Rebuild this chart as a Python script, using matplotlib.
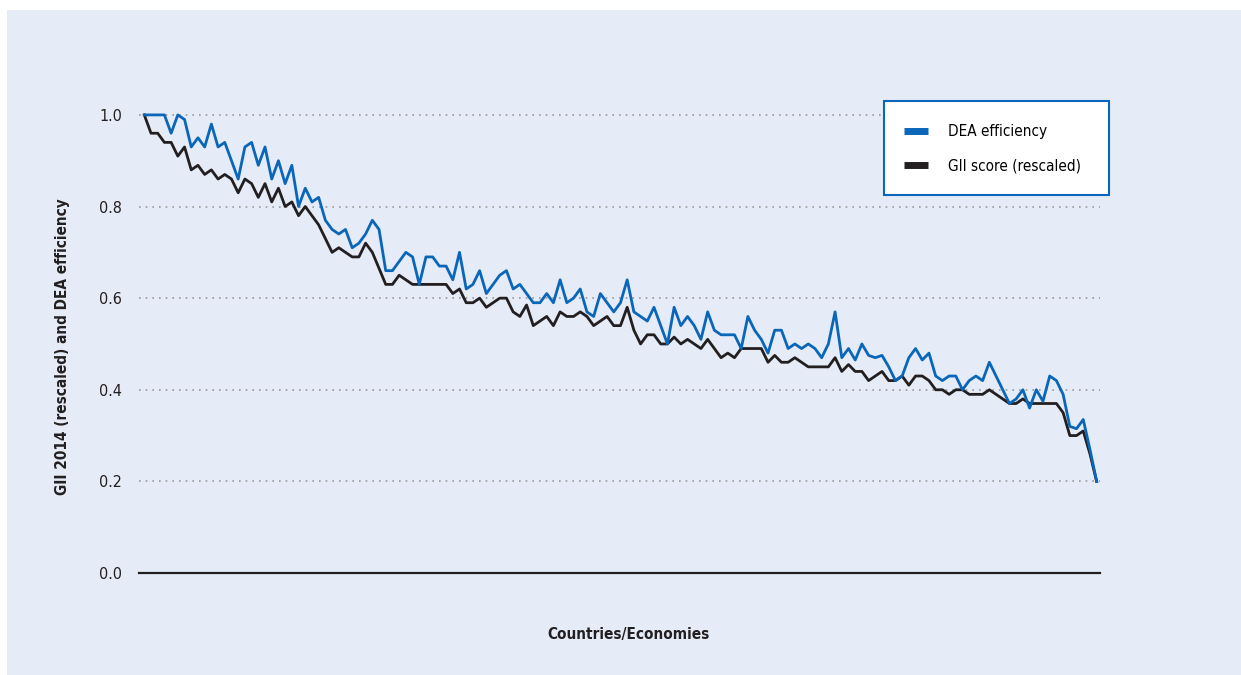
import numpy as np
import matplotlib
matplotlib.use('Agg')
import matplotlib.pyplot as plt

plt.rcParams['font.family'] = ['DejaVu Sans']
plt.rcParams['font.stretch'] = 'condensed'

# 143 economies, ranked by GII score
dea = [1.0, 1.0, 1.0, 1.0, 0.96, 1.0, 0.99, 0.93, 0.95, 0.93, 0.98, 0.93, 0.94, 0.90, 0.86,
       0.93, 0.94, 0.89, 0.93, 0.86, 0.90, 0.85, 0.89, 0.80, 0.84, 0.81, 0.82, 0.77, 0.75, 0.74,
       0.75, 0.71, 0.72, 0.74, 0.77, 0.75,
       0.66, 0.66, 0.68, 0.70, 0.69, 0.63, 0.69, 0.69, 0.67, 0.67, 0.64, 0.70, 0.62, 0.63,
       0.66, 0.61, 0.63, 0.65, 0.66, 0.62, 0.63, 0.61, 0.59, 0.59, 0.61, 0.59, 0.64, 0.59,
       0.60, 0.62, 0.57, 0.56, 0.61, 0.59, 0.57, 0.59,
       0.64, 0.57, 0.56, 0.55, 0.58, 0.54, 0.50, 0.58, 0.54, 0.56, 0.54, 0.51, 0.57, 0.53,
       0.52, 0.52, 0.52, 0.49, 0.56, 0.53, 0.51, 0.48, 0.53, 0.53, 0.49, 0.50, 0.49, 0.50,
       0.49, 0.47, 0.50, 0.57, 0.47, 0.49, 0.465, 0.50,
       0.475, 0.47, 0.475, 0.45, 0.42, 0.43, 0.47, 0.49, 0.465, 0.48, 0.43, 0.42, 0.43, 0.43,
       0.40, 0.42, 0.43, 0.42, 0.46, 0.43, 0.40, 0.37, 0.38, 0.40, 0.36, 0.40, 0.375, 0.43,
       0.42, 0.39, 0.32, 0.315, 0.335, 0.27, 0.20]
gii = [1.0, 0.96, 0.96, 0.94, 0.94, 0.91, 0.93, 0.88, 0.89, 0.87, 0.88, 0.86, 0.87, 0.86, 0.83,
       0.86, 0.85, 0.82, 0.85, 0.81, 0.84, 0.80, 0.81, 0.78, 0.80, 0.78, 0.76, 0.73, 0.70, 0.71,
       0.70, 0.69, 0.69, 0.72, 0.70, 0.665,
       0.63, 0.63, 0.65, 0.64, 0.63, 0.63, 0.63, 0.63, 0.63, 0.63, 0.61, 0.62, 0.59, 0.59,
       0.60, 0.58, 0.59, 0.60, 0.60, 0.57, 0.56, 0.585, 0.54, 0.55, 0.56, 0.54, 0.57, 0.56,
       0.56, 0.57, 0.56, 0.54, 0.55, 0.56, 0.54, 0.54,
       0.58, 0.53, 0.50, 0.52, 0.52, 0.50, 0.50, 0.515, 0.50, 0.51, 0.50, 0.49, 0.51, 0.49,
       0.47, 0.48, 0.47, 0.49, 0.49, 0.49, 0.49, 0.46, 0.475, 0.46, 0.46, 0.47, 0.46, 0.45,
       0.45, 0.45, 0.45, 0.47, 0.44, 0.455, 0.44, 0.44,
       0.42, 0.43, 0.44, 0.42, 0.42, 0.43, 0.41, 0.43, 0.43, 0.42, 0.40, 0.40, 0.39, 0.40,
       0.40, 0.39, 0.39, 0.39, 0.40, 0.39, 0.38, 0.37, 0.37, 0.38, 0.37, 0.37, 0.37, 0.37,
       0.37, 0.35, 0.30, 0.30, 0.31, 0.26, 0.20]
yticks = [0.0, 0.2, 0.4, 0.6, 0.8, 1.0]

bg = '#e5ebf7'
blue = '#0a66b8'
black = '#231f20'
W, H = 1241, 675

fig = plt.figure(figsize=(12.41, 6.75), dpi=100)
fig.patch.set_facecolor('white')
fig.patches.append(plt.Rectangle((7 / W, 0), 1, 1 - 10 / H, transform=fig.transFigure,
                                 facecolor=bg, edgecolor='none', zorder=-10))
ax = fig.add_axes([139 / W, 102 / H, (1100 - 139) / W, 481 / H])
ax.set_facecolor('none')

x = np.arange(len(dea))
ax.plot(x, gii, color=black, lw=2.0, label='GII score (rescaled)', zorder=3)
ax.plot(x, dea, color=blue, lw=2.0, label='DEA efficiency', zorder=4)

ax.set_xlim(-0.79, 142.5)
ax.set_ylim(0, 1.05)
ax.set_yticks(yticks)
ax.set_yticklabels(['%.1f' % v for v in yticks], fontsize=11.5, color=black)
ax.set_xticks([])
ax.tick_params(axis='y', length=0, pad=12)
for s in ax.spines.values():
    s.set_visible(False)
for v in yticks[1:]:
    ax.axhline(v, color='#999999', lw=1.2, ls=(0, (1, 3)), zorder=1)
ax.axhline(0, color=black, lw=1.6, zorder=2, clip_on=False)

fig.text(63 / W, 1 - 347 / H, 'GII 2014 (rescaled) and DEA efficiency', rotation=90,
         ha='center', va='center', fontsize=11, fontweight='bold', color=black)
fig.text(628 / W, 1 - 634 / H, 'Countries/Economies', ha='center', va='center',
         fontsize=11, fontweight='bold', color=black)

# legend box
fig.patches.append(plt.Rectangle((884 / W, 1 - 195 / H), 225 / W, 94 / H,
                                 transform=fig.transFigure, facecolor='white',
                                 edgecolor=blue, lw=1.5, zorder=5))
h, l = ax.get_legend_handles_labels()
leg = fig.legend(h[::-1], l[::-1], loc='upper left', bbox_to_anchor=(904 / W, 1 - 124 / H),
                 frameon=False, fontsize=11, handlelength=1.6, handletextpad=1.25,
                 borderpad=0, labelspacing=1.25, borderaxespad=0)
leg.set_zorder(6)
for line in leg.get_lines():
    line.set_linewidth(5)
    line.set_solid_capstyle('butt')

fig.savefig('out.png', dpi=100, facecolor=fig.get_facecolor())
